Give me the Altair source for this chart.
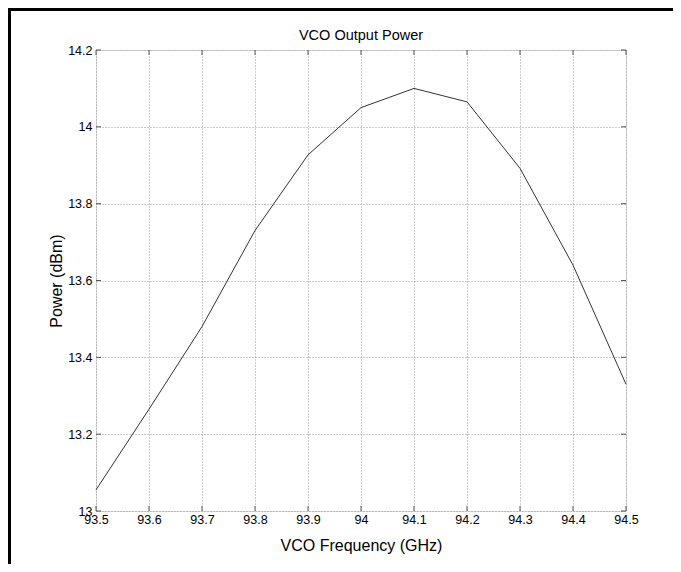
import altair as alt
import pandas as pd

freq = [93.5, 93.6, 93.7, 93.8, 93.9, 94.0, 94.1, 94.2, 94.3, 94.4, 94.5]
power = [13.055, 13.265, 13.48, 13.73, 13.927, 14.05, 14.10, 14.065, 13.892, 13.64, 13.33]
x_ticks = [93.5, 93.6, 93.7, 93.8, 93.9, 94.0, 94.1, 94.2, 94.3, 94.4, 94.5]
y_ticks = [13.0, 13.2, 13.4, 13.6, 13.8, 14.0, 14.2]
title_text = ["VCO Output Power"]

W, H = 530, 461
PL, PT, PR, PB = 88, 42, 47, 53
FONT = "Arial, Liberation Sans, sans-serif"

df = pd.DataFrame({"freq": freq, "power": power})
xt = pd.DataFrame({"freq": x_ticks})
yt = pd.DataFrame({"power": y_ticks})
one = pd.DataFrame({"a": [0]})
tdf = pd.DataFrame({"label": title_text})

xs = alt.Scale(domain=[93.5, 94.5], nice=False, zero=False)
ys = alt.Scale(domain=[13.0, 14.2], nice=False, zero=False)

xaxis = alt.Axis(values=x_ticks, format="~g", grid=True, gridDash=[1, 2],
                 gridColor="#999999", ticks=False, domain=False,
                 labelFont=FONT, labelFontSize=12.5, labelColor="black",
                 labelPadding=2, labelFlush=False,
                 titleFont=FONT, titleFontSize=16, titleFontWeight="normal",
                 titleColor="black", titlePadding=12)
yaxis = alt.Axis(values=y_ticks, format="~g", grid=True, gridDash=[1, 2],
                 gridColor="#999999", ticks=False, domain=False,
                 labelFont=FONT, labelFontSize=12.5, labelColor="black",
                 labelPadding=4, labelFlush=False,
                 titleFont=FONT, titleFontSize=16, titleFontWeight="normal",
                 titleColor="black", titlePadding=3)

line = alt.Chart(df).mark_line(color="#333333", strokeWidth=1).encode(
    x=alt.X("freq:Q", scale=xs, title="VCO Frequency (GHz)", axis=xaxis),
    y=alt.Y("power:Q", scale=ys, title="Power (dBm)", axis=yaxis),
)

tick_style = dict(color="#555555", strokeWidth=1)
xb = alt.Chart(xt).mark_rule(**tick_style).encode(
    x=alt.X("freq:Q", scale=xs, title="VCO Frequency (GHz)"),
    y=alt.value(H), y2=alt.value(H - 5))
xtop = alt.Chart(xt).mark_rule(**tick_style).encode(
    x=alt.X("freq:Q", scale=xs, title="VCO Frequency (GHz)"),
    y=alt.value(0), y2=alt.value(5))
yl = alt.Chart(yt).mark_rule(**tick_style).encode(
    y=alt.Y("power:Q", scale=ys, title="Power (dBm)"),
    x=alt.value(0), x2=alt.value(5))
yr = alt.Chart(yt).mark_rule(**tick_style).encode(
    y=alt.Y("power:Q", scale=ys, title="Power (dBm)"),
    x=alt.value(W), x2=alt.value(W - 5))

title = alt.Chart(tdf).mark_text(font=FONT, fontSize=14.5, color="black",
                                 baseline="alphabetic", align="center").encode(
    text="label:N", x=alt.value(W / 2), y=alt.value(-10))

border_top = alt.Chart(one).mark_rule(color="black", strokeWidth=3).encode(
    x=alt.value(-PL), x2=alt.value(W + PR), y=alt.value(-PT + 1.5))
border_left = alt.Chart(one).mark_rule(color="black", strokeWidth=3).encode(
    x=alt.value(-PL + 1.5), y=alt.value(-PT), y2=alt.value(H + PB))

chart = alt.layer(line, xb, xtop, yl, yr, title, border_top, border_left).properties(
    width=W, height=H,
    autosize=alt.AutoSizeParams(type="none"),
    padding={"left": PL, "top": PT, "right": PR, "bottom": PB},
).configure_view(stroke="#555555", strokeWidth=1).configure(background="white")

chart.save("out.html", embed_options={"renderer": "svg", "actions": False})
